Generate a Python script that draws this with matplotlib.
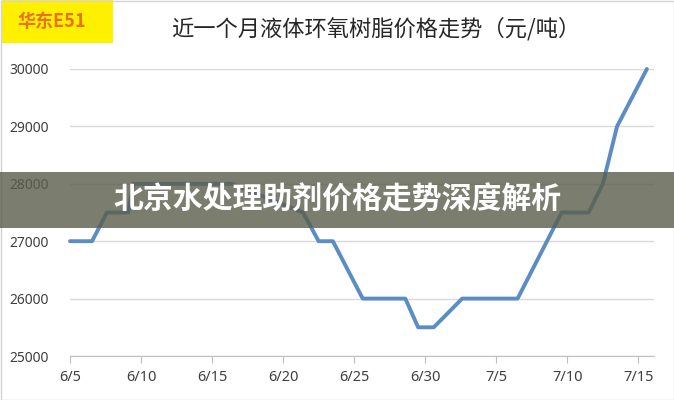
import matplotlib.pyplot as plt
from matplotlib.patches import Rectangle

plt.rcParams['font.family'] = ['Noto Sans CJK SC', 'DejaVu Sans']

# days counted from 6/5 at the corners of the line
day_offsets = [0, 1.55, 2.6, 4.1, 4.45, 11.4, 16.4, 17.5, 18.5, 20.6, 23.6,
               24.5, 25.6, 26.8, 27.6, 31.5, 34.6, 36.5, 37.5, 38.5, 40.6]
prices = [27000, 27000, 27500, 27500, 28000, 28000, 27500, 27000, 27000, 26000, 26000,
          25500, 25500, 25800, 26000, 26000, 27500, 27500, 28000, 29000, 30000]

tick_days = [0, 5, 10, 15, 20, 25, 30, 35, 40]
tick_labels = ['6/5', '6/10', '6/15', '6/20', '6/25', '6/30', '7/5', '7/10', '7/15']
price_ticks = [25000, 26000, 27000, 28000, 29000, 30000]

title = '近一个月液体环氧树脂价格走势（元/吨）'
tag = '华东E51'
banner = '北京水处理助剂价格走势深度解析'

W, H = 674, 400
fig = plt.figure(figsize=(W / 100, H / 100), dpi=100)
ax = fig.add_axes([70 / W, 1 - 356 / H, 584 / W, (356 - 69) / H])

ax.plot(day_offsets, prices, color='#5b8dc4', lw=2.8,
        solid_joinstyle='round', solid_capstyle='round', clip_on=False, zorder=3)

ax.set_xlim(0, 41.1)
ax.set_ylim(25000, 30000)
ax.set_xticks(tick_days)
ax.set_xticklabels(tick_labels)
ax.set_yticks(price_ticks)
ax.yaxis.grid(True, color='#d9d9d9', lw=1)
ax.set_axisbelow(True)

for side in ['top', 'left', 'right']:
    ax.spines[side].set_visible(False)
ax.spines['bottom'].set_color('#c0c0c0')
ax.tick_params(axis='x', direction='out', length=5, color='#c0c0c0',
               labelcolor='#404040', labelsize=10.5, pad=5)
ax.tick_params(axis='y', length=0, labelcolor='#404040', labelsize=10, pad=15)
for lab in ax.get_xticklabels() + ax.get_yticklabels():
    lab.set_family(['Noto Sans', 'DejaVu Sans'])

# yellow tag and title
fig.add_artist(Rectangle((2 / W, 1 - 43 / H), 111 / W, 43 / H,
                         transform=fig.transFigure, facecolor='#fff000',
                         edgecolor='none', zorder=1))
fig.text(52 / W, 1 - 21 / H, tag, ha='center', va='center', fontsize=13,
         fontweight='bold', color='#e8731f', zorder=2)
fig.text(376 / W, 1 - 29 / H, title, ha='center', va='center', fontsize=16,
         color='#262626')

# outer frame
fig.add_artist(Rectangle((0.5 / W, 0.5 / H), (W - 1) / W, (H - 1) / H,
                         transform=fig.transFigure, facecolor='none',
                         edgecolor='#d4d4d4', lw=1, zorder=1))

# dark translucent band with caption on top
fig.add_artist(Rectangle((0, 1 - 228 / H), 1, 56 / H, transform=fig.transFigure,
                         facecolor='#5a5e4b', alpha=0.8, edgecolor='none', zorder=10))
fig.text(337 / W, 1 - 200 / H, banner, ha='center', va='center', fontsize=21.5,
         fontweight='bold', color='white', zorder=11)

fig.savefig('out.png', dpi=100)
